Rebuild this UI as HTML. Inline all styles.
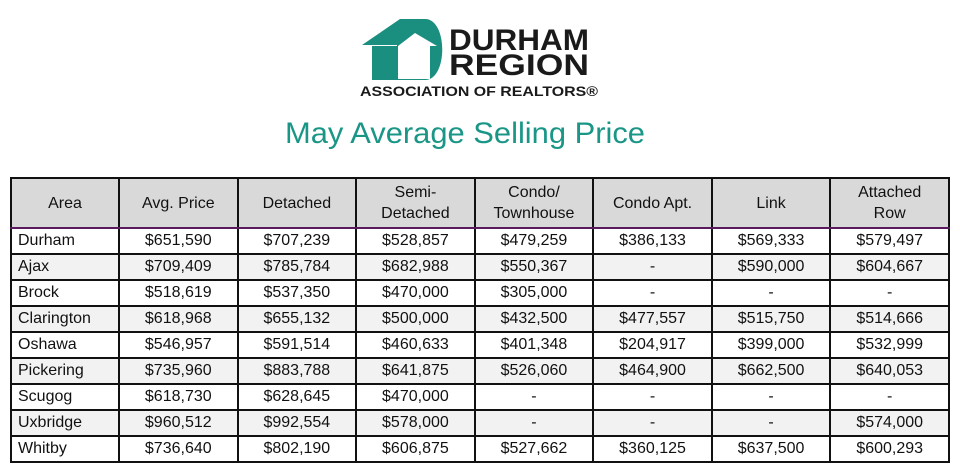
<!DOCTYPE html>
<html><head><meta charset="utf-8"><style>
body{margin:0;width:960px;height:466px;background:#fff;position:relative;overflow:hidden;font-family:"Liberation Sans",sans-serif}
.t{position:absolute;left:10px;top:177px;border-collapse:collapse;table-layout:fixed;width:940px}
.t td{border:2px solid #111;text-align:center;font-size:16px;color:#111;padding:0;line-height:20px}
.t tr{height:26px}
.t tr.h{height:50px}
.t tr.h td{background:#d9d9d9;line-height:21px;border-bottom:2px solid #5a1a5e}
.t tr.g td{background:#f2f2f2}
.t td:first-child{text-align:left;padding-left:6px}
.t tr.h td:first-child{text-align:center;padding-left:0}
</style></head><body>
<svg style="position:absolute;left:0;top:0" width="960" height="170">
<path d="M362 45 L400 19 L425 19 C448 19 448 80 425 80 L397 80 L397 45 Z" fill="#1a8f80"/>
<path d="M398 46 L415 33 L437 46 L430 46 L430 79 L398 79 Z" fill="#fff"/>
<path d="M372 46 L397 46 L397 80 L372 80 Z" fill="#1a8f80"/>
<text x="449" y="50" font-family="Liberation Sans" font-weight="bold" font-size="30" fill="#1a1a1a" textLength="140" lengthAdjust="spacingAndGlyphs">DURHAM</text>
<text x="449" y="75" font-family="Liberation Sans" font-weight="bold" font-size="30" fill="#1a1a1a" textLength="140" lengthAdjust="spacingAndGlyphs">REGION</text>
<text x="360" y="96" font-family="Liberation Sans" font-weight="bold" font-size="14" fill="#1a1a1a" textLength="238" lengthAdjust="spacingAndGlyphs">ASSOCIATION OF REALTORS®</text>
<text x="465" y="143" text-anchor="middle" font-family="Liberation Sans" font-size="30" fill="#1a9687" textLength="360" lengthAdjust="spacingAndGlyphs">May Average Selling Price</text>
</svg>
<table class="t">
<colgroup><col style="width:108px"><col span="7"></colgroup>
<tr class="h"><td>Area</td><td>Avg. Price</td><td>Detached</td><td>Semi-<br>Detached</td><td>Condo/<br>Townhouse</td><td>Condo Apt.</td><td>Link</td><td>Attached<br>Row</td></tr>
<tr><td>Durham</td><td>$651,590</td><td>$707,239</td><td>$528,857</td><td>$479,259</td><td>$386,133</td><td>$569,333</td><td>$579,497</td></tr>
<tr class="g"><td>Ajax</td><td>$709,409</td><td>$785,784</td><td>$682,988</td><td>$550,367</td><td>-</td><td>$590,000</td><td>$604,667</td></tr>
<tr><td>Brock</td><td>$518,619</td><td>$537,350</td><td>$470,000</td><td>$305,000</td><td>-</td><td>-</td><td>-</td></tr>
<tr class="g"><td>Clarington</td><td>$618,968</td><td>$655,132</td><td>$500,000</td><td>$432,500</td><td>$477,557</td><td>$515,750</td><td>$514,666</td></tr>
<tr><td>Oshawa</td><td>$546,957</td><td>$591,514</td><td>$460,633</td><td>$401,348</td><td>$204,917</td><td>$399,000</td><td>$532,999</td></tr>
<tr class="g"><td>Pickering</td><td>$735,960</td><td>$883,788</td><td>$641,875</td><td>$526,060</td><td>$464,900</td><td>$662,500</td><td>$640,053</td></tr>
<tr><td>Scugog</td><td>$618,730</td><td>$628,645</td><td>$470,000</td><td>-</td><td>-</td><td>-</td><td>-</td></tr>
<tr class="g"><td>Uxbridge</td><td>$960,512</td><td>$992,554</td><td>$578,000</td><td>-</td><td>-</td><td>-</td><td>$574,000</td></tr>
<tr><td>Whitby</td><td>$736,640</td><td>$802,190</td><td>$606,875</td><td>$527,662</td><td>$360,125</td><td>$637,500</td><td>$600,293</td></tr>
</table>
</body></html>
